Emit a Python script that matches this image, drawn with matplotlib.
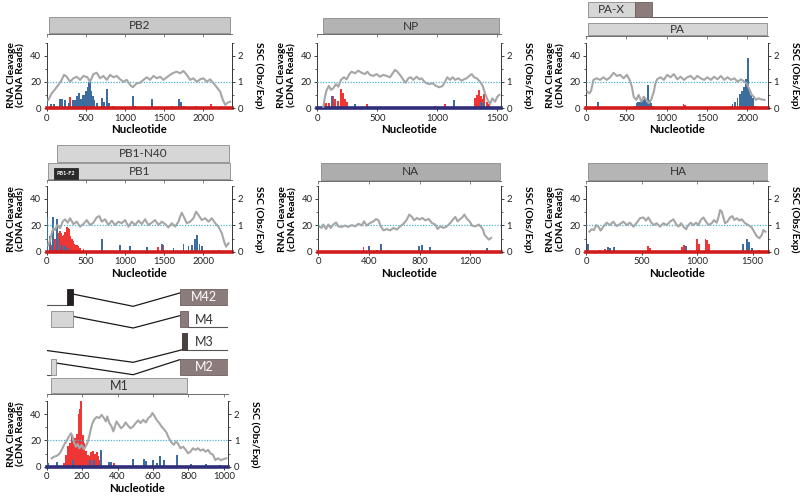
import matplotlib
matplotlib.use("Agg")
import matplotlib.pyplot as plt
from matplotlib.patches import Rectangle

plt.rcParams['font.family'] = ['Lato', 'DejaVu Sans']

# ---------------- data ----------------
# PB2
pb2_ssc_x = [21, 64, 106, 149, 191, 221, 255, 298, 340, 383, 426, 468, 519, 553, 596, 638, 681, 723, 766, 809,
             851, 894, 936, 979, 1021, 1064, 1098, 1149, 1191, 1234, 1277, 1319, 1362, 1404, 1447, 1489, 1532,
             1574, 1617, 1660, 1702, 1745, 1787, 1830, 1872, 1915, 1957, 2000, 2043, 2085, 2128, 2170, 2213,
             2247, 2277, 2311, 2340]
pb2_ssc_y = [0.32, 0.57, 0.72, 0.89, 1.08, 1.27, 1.20, 1.01, 1.14, 1.20, 1.08, 1.23, 1.18, 1.01, 1.30, 1.35,
             1.14, 1.23, 1.08, 1.27, 1.18, 1.23, 1.10, 1.01, 1.08, 0.89, 0.80, 0.95, 0.97, 1.08, 1.18, 1.08,
             1.23, 1.14, 1.20, 1.08, 1.18, 1.27, 1.35, 1.39, 1.33, 1.42, 1.27, 1.08, 1.14, 1.01, 1.10, 1.14,
             1.01, 1.10, 0.95, 0.80, 0.63, 0.32, 0.13, 0.22, 0.25]
pb2_blue_x = [10, 50, 90, 165, 195, 230, 290, 330, 360, 385, 410, 435, 460, 485, 505, 525, 545, 558, 572, 590,
              610, 640, 700, 730, 765, 790, 850, 1100, 1130, 1340, 1690, 1715, 1750, 1900]
pb2_blue_h = [7.5, 3, 3, 7, 7, 6, 4, 6, 6, 9, 12, 7, 10, 10, 13, 16, 20, 22, 13, 9,
              6, 4, 8, 5, 15, 4, 2, 9, 2, 7, 7, 5, 2, 1]
pb2_red_x = [300, 455, 525, 600, 640, 775, 1250, 1600, 1900, 2000, 2100, 2230]
pb2_red_h = [8.5, 3, 4, 2, 3, 7, 1, 1.5, 1.5, 1, 3, 2]

# NP
np_ssc_x = [50, 64, 78, 97, 114, 133, 156, 175, 197, 222, 244, 267, 286, 314, 342, 369, 397, 417, 439, 467,
            494, 522, 550, 578, 606, 628, 647, 667, 689, 717, 736, 758, 778, 800, 828, 850, 869, 892, 911, 933,
            961, 989, 1017, 1044, 1064, 1083, 1106, 1128, 1147, 1175, 1203, 1222, 1244, 1267, 1286, 1306, 1328,
            1356, 1378, 1397, 1419, 1439, 1458, 1481, 1500, 1517]
np_ssc_y = [0.06, 0.44, 0.70, 0.85, 0.70, 0.76, 0.92, 0.82, 1.08, 1.18, 1.10, 1.30, 1.39, 1.33, 1.43, 1.35,
            1.30, 1.39, 1.27, 1.23, 1.30, 1.20, 1.27, 1.23, 1.18, 1.33, 1.46, 1.39, 1.27, 1.08, 0.97, 1.14,
            1.18, 1.08, 1.20, 1.10, 1.14, 1.01, 0.95, 0.92, 0.95, 0.85, 0.80, 0.85, 1.01, 1.18, 1.08, 1.18,
            1.08, 1.14, 1.05, 1.10, 1.14, 1.23, 1.30, 1.18, 1.14, 1.01, 0.85, 0.57, 0.32, 0.16, 0.38, 0.25,
            0.44, 0.51]
np_blue_x = [125, 180, 315, 1135, 1360, 1385, 1470]
np_blue_h = [9, 2, 3.5, 6.5, 5, 4, 1]
np_red_x = [55, 75, 100, 130, 145, 170, 195, 210, 230, 245, 415, 980, 1065, 1310, 1330, 1345, 1360, 1375,
            1390, 1410, 1430]
np_red_h = [5, 4, 4, 9, 7, 5.5, 15, 12, 7, 5, 3, 2, 3, 7.5, 10, 14, 9, 7, 11, 5, 3]

# PA
pa_ssc_x = [17, 42, 63, 92, 133, 175, 217, 258, 300, 342, 383, 425, 467, 508, 542, 571, 592, 625, 654, 688,
            717, 750, 779, 808, 842, 862, 883, 925, 967, 1008, 1050, 1092, 1133, 1175, 1217, 1258, 1300, 1342,
            1383, 1425, 1467, 1508, 1550, 1592, 1633, 1675, 1717, 1758, 1800, 1842, 1883, 1925, 1967, 2000,
            2029, 2058, 2083, 2112, 2142, 2175, 2217]
pa_ssc_y = [0.63, 0.57, 0.66, 1.08, 1.14, 1.08, 1.18, 1.08, 1.18, 1.35, 1.23, 1.27, 1.14, 1.27, 1.08, 0.80,
            0.44, 0.32, 0.51, 0.25, 0.44, 0.32, 0.19, 0.32, 0.63, 0.95, 1.10, 1.18, 1.08, 1.27, 1.18, 1.30,
            1.10, 1.20, 1.08, 1.18, 1.23, 1.10, 1.23, 1.14, 1.08, 1.18, 1.08, 1.20, 1.10, 1.23, 1.08, 1.18,
            1.08, 1.14, 1.01, 1.10, 1.01, 0.92, 0.72, 0.51, 0.44, 0.32, 0.38, 0.34, 0.32]
pa_blue_x = [145, 610, 630, 650, 670, 690, 710, 730, 750, 770, 790, 810, 830,
             1820, 1850, 1880, 1910, 1940, 1960, 1985, 2010, 2030, 2050, 2070, 2095]
pa_blue_h = [4.5, 2, 4, 4.5, 5, 5, 6, 7, 5, 18, 6, 4, 2,
             3, 5, 8, 11, 13, 16, 22, 38, 15, 10, 8, 2]
pa_red_x = [150, 400, 600, 1210, 1230, 1750, 1800, 2050]
pa_red_h = [1, 1, 1, 3.5, 2.5, 1, 1.5, 1.5]

# PB1
pb1_ssc_x = [21, 43, 64, 85, 106, 136, 170, 204, 234, 268, 298, 340, 383, 426, 468, 511, 553, 596, 638, 672,
             702, 745, 787, 830, 872, 915, 957, 1000, 1043, 1085, 1128, 1170, 1213, 1255, 1298, 1340, 1383,
             1426, 1468, 1511, 1553, 1596, 1638, 1681, 1702, 1723, 1753, 1787, 1830, 1872, 1906, 1936, 1979,
             2021, 2064, 2106, 2149, 2191, 2234, 2264, 2289, 2319]
pb1_ssc_y = [0.25, 0.44, 0.70, 0.89, 0.82, 1.01, 0.89, 1.14, 1.23, 1.10, 1.27, 1.05, 1.14, 0.95, 1.05, 1.20,
             1.01, 1.10, 1.30, 1.35, 1.14, 1.23, 1.01, 1.18, 1.01, 1.14, 1.08, 1.20, 0.95, 1.14, 1.01, 1.18,
             1.05, 1.23, 1.01, 1.10, 1.20, 1.01, 1.14, 1.05, 0.92, 1.08, 0.95, 1.14, 1.33, 1.48, 1.30, 1.08,
             1.14, 1.27, 1.52, 1.39, 1.20, 1.27, 1.14, 1.27, 1.08, 0.95, 0.70, 0.38, 0.19, 0.32]
pb1_blue_x = [10, 45, 80, 135, 165, 195, 230, 270, 702, 936, 1064, 1277, 1475, 1617, 1745, 1808, 1850, 1894,
              1915, 1949, 1979, 2128]
pb1_blue_h = [26, 12, 26, 24.5, 10, 5, 4, 3, 10, 5, 4.5, 3.3, 6, 2.5, 6, 4, 5, 10, 12.7, 6, 4, 1.5]
pb1_red_x = [64, 85, 106, 136, 155, 170, 190, 204, 220, 234, 255, 272, 289, 305, 319, 335, 349, 365, 383, 405,
             426, 468, 1417, 1489, 2200]
pb1_red_h = [5, 8, 10, 13, 14, 16, 14, 12, 13, 15, 19, 18, 17, 12, 10, 8, 6, 5, 5, 4, 3, 2, 3.3, 5, 1.5]

# NA
na_ssc_x = [13, 26, 40, 61, 79, 98, 119, 140, 158, 185, 211, 237, 264, 290, 317, 343, 361, 383, 409, 435,
            456, 475, 493, 515, 541, 567, 594, 620, 646, 673, 699, 718, 739, 757, 778, 799, 821, 844, 871, 897,
            923, 942, 963, 989, 1016, 1042, 1063, 1082, 1100, 1121, 1140, 1153, 1174, 1195, 1214, 1240, 1267,
            1285, 1301, 1311, 1327, 1346, 1364]
na_ssc_y = [0.94, 0.90, 1.03, 0.86, 1.03, 0.90, 1.03, 1.11, 0.96, 0.94, 0.99, 0.94, 1.01, 0.96, 1.06, 1.00,
            1.15, 0.99, 1.09, 1.15, 1.24, 1.19, 0.96, 0.81, 0.86, 0.81, 0.90, 0.84, 0.96, 1.06, 1.22, 1.41,
            1.32, 1.19, 1.28, 1.22, 1.28, 1.19, 1.24, 1.09, 1.03, 0.86, 0.96, 0.90, 0.96, 1.09, 1.22, 1.32,
            1.15, 1.24, 1.32, 1.41, 1.24, 1.15, 0.99, 0.96, 1.03, 0.94, 0.84, 0.65, 0.56, 0.46, 0.52]
na_blue_x = [401, 462, 493, 554, 792, 818, 884, 1332]
na_blue_h = [4, 1.5, 6, 1, 4, 5, 3.5, 2.5]
na_red_x = [356]
na_red_h = [3.5]

# HA
ha_ssc_x = [30, 51, 72, 90, 111, 132, 156, 186, 216, 246, 276, 306, 336, 366, 396, 426, 456, 486, 516, 540,
            561, 582, 606, 636, 666, 696, 726, 756, 786, 810, 831, 855, 876, 900, 921, 942, 966, 990, 1011,
            1032, 1056, 1080, 1101, 1131, 1152, 1176, 1191, 1206, 1221, 1236, 1251, 1272, 1296, 1317, 1335,
            1356, 1380, 1401, 1431, 1461, 1491, 1512, 1536, 1560, 1581, 1596, 1614]
ha_ssc_y = [0.76, 0.85, 0.82, 1.01, 0.95, 0.80, 0.95, 1.10, 1.01, 1.14, 0.97, 1.05, 1.14, 1.01, 1.10, 0.95,
            1.10, 1.27, 1.30, 1.18, 1.30, 1.14, 1.01, 1.08, 0.95, 1.08, 1.01, 1.14, 1.23, 1.05, 0.95, 1.08,
            0.95, 0.85, 1.01, 1.10, 1.01, 1.10, 1.01, 1.20, 1.30, 1.14, 1.01, 1.08, 1.20, 1.10, 1.30, 1.58,
            1.52, 1.30, 1.08, 1.14, 1.30, 1.35, 1.20, 1.27, 1.18, 1.23, 1.08, 1.01, 0.92, 0.76, 0.59, 0.51,
            0.63, 0.82, 0.76]
ha_blue_x = [15, 200, 215, 255, 900, 1410, 1445, 1465, 1490]
ha_blue_h = [5.5, 3.5, 3, 3.5, 4, 6, 10, 7, 2.5]
ha_red_x = [125, 171, 215, 555, 576, 865, 885, 1000, 1015, 1075, 1090, 1105, 1560]
ha_red_h = [1.5, 1.8, 1.5, 4, 3, 3.5, 5, 9.5, 6, 9.5, 9, 6, 1]

# M
m_ssc_x = [28, 41, 56, 71, 85, 98, 113, 126, 137, 146, 154, 165, 175, 184, 197, 210, 222, 231, 240, 248,
           257, 267, 282, 297, 310, 323, 334, 342, 353, 366, 376, 385, 394, 407, 419, 432, 445, 460, 473, 488,
           503, 516, 530, 545, 560, 573, 586, 597, 607, 620, 635, 648, 661, 676, 685, 695, 704, 717, 729, 742,
           755, 770, 785, 798, 811, 826, 841, 854, 868, 883, 896, 911, 924, 939, 952, 967, 982, 999, 1014]
m_ssc_y = [0.32, 0.38, 0.41, 0.48, 0.64, 0.83, 0.99, 1.15, 1.27, 1.15, 0.92, 0.76, 0.87, 0.70, 0.83, 0.66,
           0.79, 0.92, 1.15, 1.40, 1.63, 1.78, 1.89, 1.85, 1.97, 1.85, 1.72, 1.91, 1.66, 1.53, 1.34, 1.53,
           1.72, 1.59, 1.46, 1.53, 1.68, 1.55, 1.46, 1.53, 1.66, 1.76, 1.66, 1.78, 1.68, 1.85, 1.91, 2.04,
           1.94, 1.78, 1.66, 1.53, 1.43, 1.30, 1.15, 1.02, 0.92, 0.83, 0.96, 0.87, 0.70, 0.76, 0.64, 0.51,
           0.57, 0.70, 0.64, 0.70, 0.61, 0.66, 0.57, 0.64, 0.51, 0.45, 0.25, 0.32, 0.25, 0.29, 0.32]
m_blue_x = [5, 56, 150, 245, 265, 305, 350, 365, 488, 548, 560, 598, 620, 638, 660, 737, 817, 901, 976]
m_blue_h = [2.5, 3.8, 5, 5, 5, 13, 3.8, 3.8, 5.6, 5.6, 4, 5, 3, 8.4, 5, 9, 1.8, 1.8, 1.5]
m_red_x = [100, 110, 120, 130, 140, 150, 160, 170, 180, 188, 196, 204, 212, 222, 232, 242, 252, 262, 272, 282,
           292, 302, 380]
m_red_h = [3, 9, 16, 18, 24, 20, 22, 25, 40, 44, 50, 24, 18, 12, 9, 8, 11, 12, 10, 11, 8, 5, 3]

# gene maps (nucleotide extents)
pb2_gene = (28, 2335)
np_gene = (46, 1515)
pa_gene = (29, 2250)
pax_gene = (29, 610)
pax_frame = (610, 818)
pb1_gene = (21, 2338)
pb1n40_gene = (128, 2330)
pb1f2_gene = (97, 395)
na_gene = (21, 1435)
ha_gene = (21, 1638)
m1_gene = (24, 790)
m2_exons = [(24, 52), (751, 1023)]
m3_exon = (766, 794)
m4_exons = [(24, 146), (751, 798)]
m42_exons = [(113, 146), (751, 1023)]
splice_mid = 488

# axis ticks
ticks_2k = [0, 500, 1000, 1500, 2000]
ticks_np = [0, 500, 1000, 1500]
ticks_na = [0, 400, 800, 1200]
ticks_ha = [0, 500, 1000, 1500]
ticks_m = [0, 200, 400, 600, 800, 1000]

# ---------------- style ----------------
BLUE = '#3d6d9e'
RED = '#f03535'
BASE_RED = '#d01c1c'
BASE_NAVY = '#2e2f78'
GRAY = '#a6a6a6'
CYAN = '#45b5d6'
DARK = '#2a2a2a'
BROWN = '#8c7b7b'
LIGHT = '#d6d6d6'

W, H = 800, 496
fig = plt.figure(figsize=(W / 100, H / 100), dpi=100)
fig.patch.set_facecolor('white')


def px_axes(x0, y0, x1, y1, **kw):
    return fig.add_axes([x0 / W, 1 - y1 / H, (x1 - x0) / W, (y1 - y0) / H], **kw)


def panel(rect, xmax, xticks, ssc_x, ssc_y, blue_x, blue_h, red_x, red_h, barw, base):
    ax = px_axes(*rect)
    ax.bar(red_x, red_h, width=barw, color=RED, linewidth=0, zorder=2)
    ax.bar(blue_x, blue_h, width=barw, color=BLUE, linewidth=0, zorder=3)
    ax.axhline(0, color=base, lw=2.6, zorder=5, clip_on=False)
    ax.set_xlim(0, xmax)
    ax.set_ylim(0, 50)
    ax.set_xticks(xticks)
    ax.set_yticks([0, 20, 40])
    ax.set_yticks([10, 30, 50], minor=True)
    ax.spines['top'].set_visible(False)
    for s in ['left', 'right', 'bottom']:
        ax.spines[s].set_color('#3a3a3a')
        ax.spines[s].set_linewidth(0.7)
    ax.tick_params(axis='both', which='major', direction='out', length=2.5, width=0.6,
                   labelsize=6.8, pad=1.5, colors='#222222')
    ax.tick_params(axis='y', which='minor', direction='out', length=1.5, width=0.5, colors='#222222')
    ax.set_ylabel('RNA Cleavage\n(cDNA Reads)', fontsize=7.4, fontweight='bold', labelpad=3,
                  linespacing=1.2)
    ax.set_xlabel('Nucleotide', fontsize=8.2, fontweight='bold', labelpad=1)
    tw = ax.twinx()
    tw.set_ylim(0, 2.5)
    tw.axhline(1, color=CYAN, lw=0.9, ls=(0, (1, 1.2)), zorder=1)
    tw.plot(ssc_x, ssc_y, color=GRAY, lw=1.5, zorder=3)
    tw.set_yticks([0, 1, 2])
    tw.set_yticks([0.5, 1.5, 2.5], minor=True)
    for s in ['top', 'left', 'bottom']:
        tw.spines[s].set_visible(False)
    tw.spines['right'].set_color('#3a3a3a')
    tw.spines['right'].set_linewidth(0.7)
    tw.tick_params(axis='y', which='major', direction='out', length=2.5, width=0.6,
                   labelsize=6.8, pad=1.5, colors='#222222')
    tw.tick_params(axis='y', which='minor', direction='out', length=1.5, width=0.5, colors='#222222')
    tw.set_ylabel('SSC (Obs/Exp)', rotation=270, fontsize=7.4, fontweight='bold', labelpad=8,
                  va='bottom')
    return ax


def gene_axes(main, x0, x1, ytop, ybot):
    g = px_axes(x0, ytop, x1, ybot, sharex=main)
    g.set_ylim(ybot, ytop)
    g.patch.set_visible(False)
    for s in ['left', 'right', 'top']:
        g.spines[s].set_visible(False)
    g.spines['bottom'].set_color('#555555')
    g.spines['bottom'].set_linewidth(0.6)
    g.tick_params(axis='x', direction='out', length=2, width=0.5, labelbottom=False, colors='#555555')
    g.set_yticks([])
    return g


def gbox(g, span, ytop, ybot, fc, label=None, tc='#333333', fs=8.5, ec='#8a8a8a', bold=False):
    g.add_patch(Rectangle((span[0], ytop), span[1] - span[0], ybot - ytop, facecolor=fc,
                          edgecolor=ec, lw=0.6, zorder=3))
    if label:
        g.text((span[0] + span[1]) / 2, (ytop + ybot) / 2 + 0.3, label, ha='center', va='center',
               fontsize=fs, color=tc, fontweight='bold' if bold else 'normal', zorder=4)


# ---------------- row 1 ----------------
ax = panel((46.7, 42.5, 231.7, 108.3), 2360, ticks_2k, pb2_ssc_x, pb2_ssc_y, pb2_blue_x, pb2_blue_h,
           pb2_red_x, pb2_red_h, 24, BASE_RED)
g = gene_axes(ax, 46.7, 231.7, 10, 34.3)
gbox(g, pb2_gene, 16.7, 33.3, '#c8c8c8', 'PB2')

ax = panel((317.3, 42.5, 500.7, 108.3), 1528, ticks_np, np_ssc_x, np_ssc_y, np_blue_x, np_blue_h,
           np_red_x, np_red_h, 17, BASE_NAVY)
g = gene_axes(ax, 317.3, 500.7, 10, 34.3)
gbox(g, np_gene, 18.3, 33.3, '#b3b3b3', 'NP')

ax = panel((586, 42.5, 768, 108.3), 2260, ticks_2k, pa_ssc_x, pa_ssc_y, pa_blue_x, pa_blue_h,
           pa_red_x, pa_red_h, 22, BASE_RED)
g = gene_axes(ax, 586, 768, 0.5, 35.8)
g.plot([pax_gene[0], pa_gene[1]], [16.7, 16.7], color='#555555', lw=0.7, zorder=2)
gbox(g, pax_gene, 1.5, 16.7, LIGHT, 'PA-X')
gbox(g, pax_frame, 1.5, 16.7, BROWN, ec='#6e5f5f')
gbox(g, pa_gene, 22.7, 35.0, LIGHT, 'PA')

# ---------------- row 2 ----------------
ax = panel((46.7, 185.8, 231.7, 251.7), 2360, ticks_2k, pb1_ssc_x, pb1_ssc_y, pb1_blue_x, pb1_blue_h,
           pb1_red_x, pb1_red_h, 22, BASE_RED)
g = gene_axes(ax, 46.7, 231.7, 140, 180.3)
gbox(g, pb1n40_gene, 145, 161.7, LIGHT, 'PB1-N40')
gbox(g, pb1_gene, 163.3, 179.3, LIGHT, 'PB1')
gbox(g, pb1f2_gene, 168, 179.3, DARK, 'PB1-F2', tc='white', fs=4, ec=DARK, bold=True)

ax = panel((318.3, 185.8, 500.7, 251.7), 1440, ticks_na, na_ssc_x, na_ssc_y, na_blue_x, na_blue_h,
           na_red_x, na_red_h, 14, BASE_RED)
g = gene_axes(ax, 318.3, 500.7, 158, 180.8)
gbox(g, na_gene, 163.3, 180, '#adadad', 'NA')

ax = panel((586, 185.8, 768.3, 251.7), 1640, ticks_ha, ha_ssc_x, ha_ssc_y, ha_blue_x, ha_blue_h,
           ha_red_x, ha_red_h, 17, BASE_RED)
g = gene_axes(ax, 586, 768.3, 158, 180.8)
gbox(g, ha_gene, 163.3, 180, '#b5b5b5', 'HA')

# ---------------- row 3 (M segment) ----------------
ax = panel((46.7, 400.9, 228.3, 466.7), 1025, ticks_m, m_ssc_x, m_ssc_y, m_blue_x, m_blue_h,
           m_red_x, m_red_h, 11, BASE_NAVY)
g = gene_axes(ax, 46.7, 228.3, 284, 394.3)
LN = '#1a1a1a'
BL = '#555555'
# M42
g.plot([0, m42_exons[0][0]], [304.7, 304.7], color=BL, lw=0.8)
gbox(g, m42_exons[0], 288.7, 304.7, '#231f20', ec='#231f20')
g.plot([m42_exons[0][1], splice_mid, m42_exons[1][0]], [294, 306.3, 293], color=LN, lw=0.9)
gbox(g, m42_exons[1], 288.7, 304.7, BROWN, 'M42', tc='white', fs=9, ec='#6e5f5f')
# M4
gbox(g, m4_exons[0], 311.3, 326.5, LIGHT)
g.plot([m4_exons[0][1], splice_mid, m4_exons[1][0]], [316.3, 328, 315.7], color=LN, lw=0.9)
g.plot([m4_exons[1][1], 1025], [327, 327], color=BL, lw=0.8)
gbox(g, m4_exons[1], 311.3, 327, BROWN, ec='#6e5f5f')
g.text(887, 319.8, 'M4', ha='center', va='center', fontsize=9, color='#333333')
# M3
g.plot([0, splice_mid, m3_exon[0]], [350.5, 362.3, 349.7], color=LN, lw=0.9)
g.plot([m3_exon[1], 1025], [349.7, 349.7], color=BL, lw=0.8)
gbox(g, m3_exon, 333, 349.7, '#4d4040', ec='#3a3030')
g.text(892, 342, 'M3', ha='center', va='center', fontsize=9, color='#333333')
# M2
g.plot([0, m2_exons[0][0]], [374.7, 374.7], color=BL, lw=0.8)
gbox(g, m2_exons[0], 359, 374.7, LIGHT)
g.plot([m2_exons[0][1], splice_mid, m2_exons[1][0]], [363, 374.7, 359.7], color=LN, lw=0.9)
gbox(g, m2_exons[1], 359, 374.7, BROWN, 'M2', tc='white', fs=9, ec='#6e5f5f')
# M1
gbox(g, m1_gene, 378, 393, LIGHT, 'M1', fs=9)

fig.savefig('out.png', dpi=100, facecolor='white')
